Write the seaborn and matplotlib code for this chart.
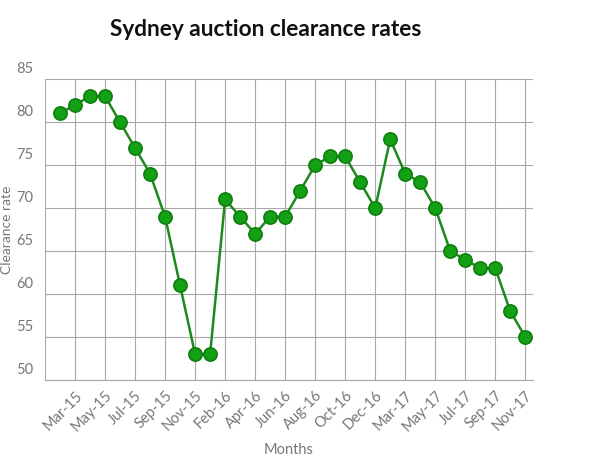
import matplotlib
matplotlib.use("Agg")
import matplotlib.pyplot as plt
import matplotlib.transforms as mtransforms
import seaborn as sns
import pandas as pd

months = ["Feb-15", "Mar-15", "Apr-15", "May-15", "Jun-15", "Jul-15", "Aug-15", "Sep-15",
          "Oct-15", "Nov-15", "Dec-15", "Feb-16", "Mar-16", "Apr-16", "May-16", "Jun-16",
          "Jul-16", "Aug-16", "Sep-16", "Oct-16", "Nov-16", "Dec-16", "Feb-17", "Mar-17",
          "Apr-17", "May-17", "Jun-17", "Jul-17", "Aug-17", "Sep-17", "Oct-17", "Nov-17"]
rates = [81, 82, 83, 83, 80, 77, 74, 69,
         61, 53, 53, 71, 69, 67, 69, 69,
         72, 75, 76, 76, 73, 70, 78, 74,
         73, 70, 65, 64, 63, 63, 58, 55]
y_ticks = [50, 55, 60, 65, 70, 75, 80, 85]

df = pd.DataFrame({"Months": months, "Clearance rate": rates})

sns.set_style("white")
plt.rcParams['font.family'] = ['Lato', 'DejaVu Sans']

grid_col = "#a8a8a8"
fig = plt.figure(figsize=(6, 4.58), dpi=100)
ax = fig.add_axes([0.075, 0.1703, 0.813, 0.657])

sns.lineplot(data=df, x="Months", y="Clearance rate", ax=ax, sort=False,
             color="#1c8a1c", linewidth=1.8, marker="o", markersize=9.5,
             markerfacecolor="#14a014", markeredgecolor="#0e7e0e", markeredgewidth=1.2)

ax.set_xlim(-1, 31.5)
ax.set_ylim(50, 85)

# vertical grid on every other month, labels on those
xt = list(range(1, len(months), 2))
ax.set_xticks(xt)
ax.set_xticklabels(months[1::2], rotation=45, ha="right", va="top",
                   rotation_mode="anchor", color="#777777", fontsize=10.5)
for xv in [-1] + xt:
    ax.axvline(xv, color=grid_col, linewidth=0.8, zorder=0)
ax.tick_params(axis="x", length=0, pad=6)

ax.set_yticks(y_ticks)
ax.set_yticklabels([str(v) for v in y_ticks], color="#777777", fontsize=10.5, ha="left")
ax.tick_params(axis="y", length=22, width=0.8, color=grid_col, pad=-1, direction="out")
ax.grid(axis="y", color=grid_col, linewidth=0.8)
offset = mtransforms.ScaledTranslation(0, 8 / 72, fig.dpi_scale_trans)
for lab in ax.get_yticklabels():
    lab.set_transform(lab.get_transform() + offset)

for s in ["top", "right", "left"]:
    ax.spines[s].set_visible(False)
ax.spines["bottom"].set_color(grid_col)
ax.spines["bottom"].set_linewidth(0.8)

ax.set_xlabel("Months", color="#777777", fontsize=10.5, labelpad=6)
ax.set_ylabel("Clearance rate", color="#777777", fontsize=10, labelpad=2)
ax.yaxis.set_label_coords(-0.065, 0.5)

fig.text(0.443, 0.935, "Sydney auction clearance rates", ha="center", va="center",
         fontsize=16.3, fontweight="bold", color="#111111")

fig.savefig("out.png", dpi=100, facecolor="white")
